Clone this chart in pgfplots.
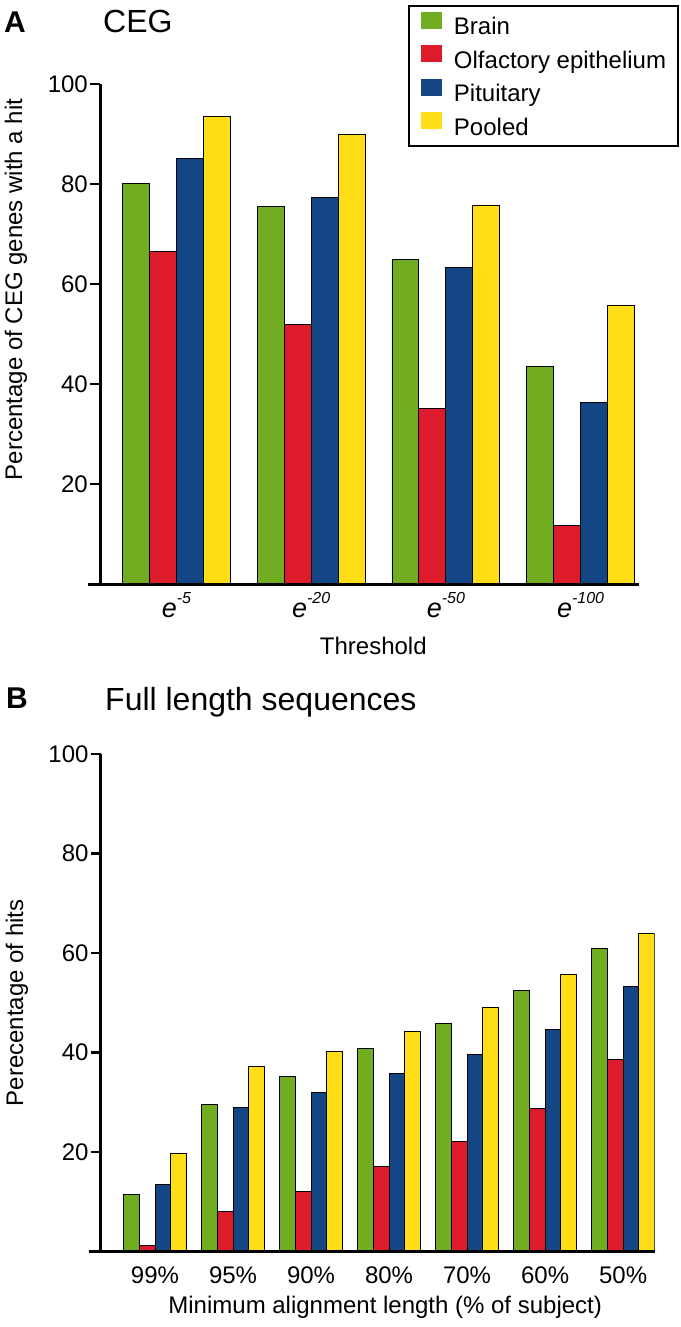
\documentclass[border=0pt]{standalone}
\usepackage{pgfplots}
\pgfplotsset{compat=1.18}
\usepackage{fontspec}
\setmainfont{Liberation Sans}
\definecolor{cgreen}{RGB}{112,173,33}
\definecolor{cred}{RGB}{221,27,43}
\definecolor{cblue}{RGB}{20,69,132}
\definecolor{cyellow}{RGB}{255,222,23}
\newcommand{\fs}[1]{\fontsize{#1}{#1}\selectfont}
\pgfplotsset{
  mybars/.style={
    ybar=0pt, bar width=0.2, scale only axis, axis on top,
    axis lines*=left,
    axis line style={line width=3pt, -},
    x axis line style={shorten <=-12pt},
    ymin=0, ymax=100, ytick={20,40,60,80,100},
    tick align=outside, major tick length=10pt,
    ytick style={line width=2.5pt, black},
    xtick style={draw=none},
    tick label style={font=\fs{24}},
    /pgf/number format/assume math mode=true,
    yticklabel style={inner sep=2pt},
    label style={font=\fs{24}},
    every axis plot/.append style={draw=black, line width=0.9pt},
    legend image code/.code={\fill[##1,draw=none] (0pt,0pt) rectangle (21pt,17pt);},
  }
}
\begin{document}
\begin{tikzpicture}
\path[use as bounding box] (0pt,0pt) rectangle (680pt,-1327pt);
\node[anchor=base west, inner sep=0pt, font=\bfseries\fs{30}] at (4pt,-33pt) {A};
\node[anchor=base west, inner sep=0pt, font=\fs{32}] at (103pt,-33pt) {CEG};
\node[anchor=base west, inner sep=0pt, font=\bfseries\fs{30}] at (6pt,-708.3pt) {B};
\node[anchor=base west, inner sep=0pt, font=\fs{32}] at (105pt,-710.7pt) {Full length sequences};

\begin{axis}[mybars,
  at={(100pt,-584pt)}, anchor=south west,
  width=539pt, height=500pt,
  xmin=-0.568, xmax=3.434,
  xtick={0,1,2,3},
  xticklabels={{\itshape e\raisebox{0.5em}{\fs{16}-5}},{\itshape e\raisebox{0.5em}{\fs{16}-20}},{\itshape e\raisebox{0.5em}{\fs{16}-50}},{\itshape e\raisebox{0.5em}{\fs{16}-100}}},
  xticklabel style={anchor=base, yshift=-23pt, font=\fs{27}},
  xlabel={Threshold},
  xlabel style={at={(axis description cs:0.507,-0.14)}, anchor=base},
  ylabel={Percentage of CEG genes with a hit},
  ylabel style={at={(axis description cs:-0.156,0.589)}, anchor=center},
  legend style={at={(0.5714,1.158)}, anchor=north west, draw=black, line width=2pt,
    font=\fs{24}, inner xsep=12pt, inner ysep=6pt, row sep=5.4pt,
    nodes={inner sep=0pt, text height=17pt, text depth=5pt},
    /tikz/every odd column/.style={column sep=12pt}},
  legend cell align=left,
]
\addplot[fill=cgreen] coordinates {(0,80.2) (1,75.5) (2,64.9) (3,43.6)};
\addplot[fill=cred] coordinates {(0,66.5) (1,52.0) (2,35.2) (3,11.8)};
\addplot[fill=cblue] coordinates {(0,85.2) (1,77.4) (2,63.4) (3,36.4)};
\addplot[fill=cyellow] coordinates {(0,93.6) (1,89.9) (2,75.8) (3,55.7)};
\legend{Brain,Olfactory epithelium,Pituitary,Pooled}
\end{axis}

\begin{axis}[mybars,
  at={(100.7pt,-1251.5pt)}, anchor=south west,
  width=554pt, height=497.5pt,
  xmin=-0.696, xmax=6.405,
  xtick={0,1,2,3,4,5,6},
  xticklabels={99\%,95\%,90\%,80\%,70\%,60\%,50\%},
  xticklabel style={anchor=base, yshift=-22pt},
  xlabel={Minimum alignment length (\% of subject)},
  xlabel style={at={(axis description cs:0.5135,-0.1255)}, anchor=base},
  ylabel={Perecentage of hits},
  ylabel style={at={(axis description cs:-0.151,0.5)}, anchor=center},
]
\addplot[fill=cgreen] coordinates {(0,11.5) (1,29.6) (2,35.1) (3,40.8) (4,45.8) (5,52.4) (6,60.9)};
\addplot[fill=cred] coordinates {(0,1.2) (1,8.0) (2,12.1) (3,17.1) (4,22.1) (5,28.8) (6,38.6)};
\addplot[fill=cblue] coordinates {(0,13.5) (1,28.9) (2,32.0) (3,35.7) (4,39.6) (5,44.6) (6,53.3)};
\addplot[fill=cyellow] coordinates {(0,19.7) (1,37.2) (2,40.3) (3,44.2) (4,49.1) (5,55.6) (6,64.0)};
\end{axis}
\end{tikzpicture}
\end{document}
